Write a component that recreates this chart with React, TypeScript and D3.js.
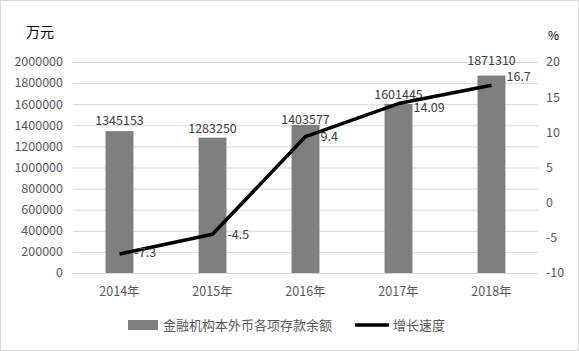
import React, { useEffect, useRef } from 'react';
import * as d3 from 'd3';

const years = ['2014年', '2015年', '2016年', '2017年', '2018年'];
const balance = [1345153, 1283250, 1403577, 1601445, 1871310];
const growth = [-7.3, -4.5, 9.4, 14.09, 16.7];
const leftTicks = [0, 200000, 400000, 600000, 800000, 1000000, 1200000, 1400000, 1600000, 1800000, 2000000];
const rightTicks = [-10, -5, 0, 5, 10, 15, 20];
const barName = '金融机构本外币各项存款余额';
const lineName = '增长速度';

const W = 579;
const H = 351;
const FONT = '"Noto Sans CJK SC", "Noto Sans", sans-serif';

const App = () => {
  const svgRef = useRef<SVGSVGElement>(null);

  useEffect(() => {
    document.body.style.margin = '0';
    const svg = d3.select(svgRef.current);
    svg.selectAll('*').remove();

    const left = 73, right = 538, top = 62, bottom = 273;

    const x = d3.scaleBand().domain(years).range([left, right]).paddingInner(0.7).paddingOuter(0.35);
    const xc = d3.scalePoint().domain(years).range([left, right]).padding(0.5);
    const yL = d3.scaleLinear().domain([0, 2000000]).range([bottom, top]);
    const yR = d3.scaleLinear().domain([-10, 20]).range([bottom, top]);

    // frame
    svg.append('rect')
      .attr('x', 0.5).attr('y', 0.5).attr('width', W - 1).attr('height', H - 1)
      .attr('fill', '#fff').attr('stroke', '#d9d9d9');

    // grid
    svg.append('g')
      .selectAll('line')
      .data(leftTicks)
      .join('line')
      .attr('x1', left).attr('x2', right)
      .attr('y1', d => yL(d) + 0.5).attr('y2', d => yL(d) + 0.5)
      .attr('stroke', '#d9d9d9').attr('stroke-width', 1);

    // left ticks
    svg.append('g')
      .selectAll('text')
      .data(leftTicks)
      .join('text')
      .attr('x', 63).attr('y', d => yL(d)).attr('dy', '0.35em')
      .attr('text-anchor', 'end')
      .attr('font-size', 12.5).attr('fill', '#595959').attr('font-family', FONT)
      .text(d => String(d));

    // right ticks
    svg.append('g')
      .selectAll('text')
      .data(rightTicks)
      .join('text')
      .attr('x', 546).attr('y', d => yR(d)).attr('dy', '0.35em')
      .attr('text-anchor', 'start')
      .attr('font-size', 12.5).attr('fill', '#595959').attr('font-family', FONT)
      .text(d => String(d));

    // unit labels
    svg.append('text').attr('x', 26).attr('y', 37)
      .attr('font-size', 14).attr('fill', '#000').attr('font-family', FONT).text('万元');
    svg.append('text').attr('x', 548).attr('y', 40)
      .attr('font-size', 12).attr('fill', '#000').attr('font-family', FONT).text('%');

    // bars
    svg.append('g')
      .selectAll('rect')
      .data(balance)
      .join('rect')
      .attr('x', (d, i) => x(years[i])!)
      .attr('width', x.bandwidth())
      .attr('y', d => yL(d))
      .attr('height', d => bottom - yL(d))
      .attr('fill', '#7f7f7f');

    // bar labels (gaps above the bar top, as placed in the original)
    const gaps = [6, 5, 1, 5, 11];
    svg.append('g')
      .selectAll('text')
      .data(balance)
      .join('text')
      .attr('x', (d, i) => xc(years[i])!)
      .attr('y', (d, i) => yL(d) - gaps[i])
      .attr('text-anchor', 'middle')
      .attr('font-size', 12.5).attr('fill', '#404040').attr('font-family', FONT)
      .text(d => String(d));

    // x labels
    svg.append('g')
      .selectAll('text')
      .data(years)
      .join('text')
      .attr('x', d => xc(d)!)
      .attr('y', 292).attr('dy', '0.35em')
      .attr('text-anchor', 'middle')
      .attr('font-size', 12.5).attr('fill', '#595959').attr('font-family', FONT)
      .text(d => d);

    // line
    const line = d3.line<number>()
      .x((d, i) => xc(years[i])!)
      .y(d => yR(d));
    svg.append('path')
      .datum(growth)
      .attr('d', line)
      .attr('fill', 'none')
      .attr('stroke', '#000')
      .attr('stroke-width', 3.5)
      .attr('stroke-linejoin', 'round');

    // line labels
    const dys = [-1, 0, 0.5, 4.5, -9];
    svg.append('g')
      .selectAll('text')
      .data(growth)
      .join('text')
      .attr('x', (d, i) => xc(years[i])! + 15)
      .attr('y', (d, i) => yR(d) + dys[i]).attr('dy', '0.35em')
      .attr('font-size', 12.5).attr('fill', '#404040').attr('font-family', FONT)
      .text(d => String(d));

    // legend
    const lg = svg.append('g');
    lg.append('rect').attr('x', 128).attr('y', 320).attr('width', 30).attr('height', 10).attr('fill', '#7f7f7f');
    lg.append('text').attr('x', 163).attr('y', 325).attr('dy', '0.35em')
      .attr('font-size', 13).attr('fill', '#595959').attr('font-family', FONT).text(barName);
    lg.append('line').attr('x1', 355).attr('x2', 389).attr('y1', 325).attr('y2', 325)
      .attr('stroke', '#000').attr('stroke-width', 3.5);
    lg.append('text').attr('x', 393).attr('y', 325).attr('dy', '0.35em')
      .attr('font-size', 13).attr('fill', '#595959').attr('font-family', FONT).text(lineName);
  }, []);

  return <svg ref={svgRef} width={W} height={H} style={{ display: 'block' }} />;
};

export default App;
